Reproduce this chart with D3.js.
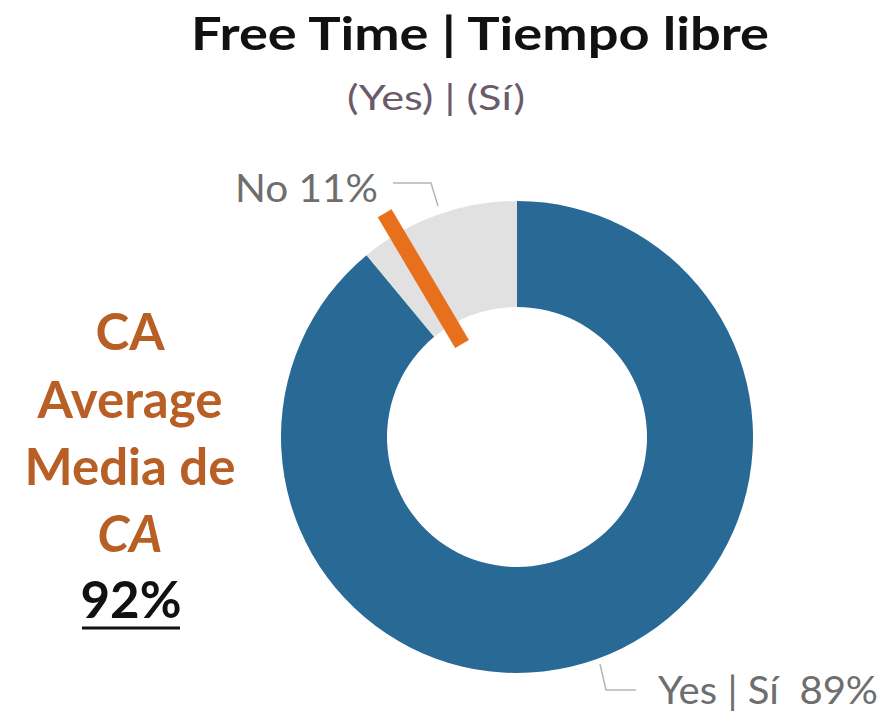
<!DOCTYPE html>
<html lang="en">
  <head>
    <meta charset="utf-8">
    <title>Free Time donut</title>
    <script src="https://d3js.org/d3.v7.min.js"></script>
    <style type="text/css">
      body { margin: 0; background: #fff; }
      text { font-family: Lato, "Open Sans", sans-serif; }
    </style>
  </head>
  <body>
    <script>
      var w = 884;
      var h = 715;

      var categories = ["Yes | Sí", "No"];
      var values = [89, 11];
      var sliceLabels = ["Yes | Sí  89%", "No 11%"];
      var avgValue = 0.915;
      var avgLines = ["CA", "Average", "Media de", "CA"];
      var avgLabel = "92%";

      var svg = d3.select("body").append("svg")
          .attr("width", w).attr("height", h);

      var cx = 517, cy = 437;
      var outerR = 236, innerR = 130;

      var colors = d3.scaleOrdinal()
        .domain(categories)
        .range(["#286996", "#e1e1e1"]);

      var pie = d3.pie().sort(null).value(d => d.v);
      var arcs = pie(categories.map((c, i) => ({c: c, v: values[i]})));

      var arcGen = d3.arc().innerRadius(innerR).outerRadius(outerR);

      var g = svg.append("g").attr("transform", "translate(" + cx + "," + cy + ")");

      g.selectAll("path.slice")
        .data(arcs)
        .enter().append("path")
        .attr("class", "slice")
        .attr("d", arcGen)
        .attr("fill", d => colors(d.data.c));

      // average marker
      var ang = d3.scaleLinear().domain([0, 1]).range([0, 2 * Math.PI]);
      var a = ang(avgValue);
      g.append("line")
        .attr("x1", 108 * Math.sin(a)).attr("y1", -108 * Math.cos(a))
        .attr("x2", 260 * Math.sin(a)).attr("y2", -260 * Math.cos(a))
        .attr("stroke", "#e8701c")
        .attr("stroke-width", 16);

      // leader lines
      svg.append("path")
        .attr("d", "M393,183 L431,183 L438,206")
        .attr("fill", "none").attr("stroke", "#b5b5b5").attr("stroke-width", 1.5);
      svg.append("path")
        .attr("d", "M600,664 L606,690 L636,690")
        .attr("fill", "none").attr("stroke", "#b5b5b5").attr("stroke-width", 1.5);

      svg.append("text")
        .attr("x", 235).attr("y", 202)
        .attr("font-size", 38).attr("fill", "#6e6e6e")
        .attr("textLength", 143).attr("lengthAdjust", "spacingAndGlyphs")
        .text(sliceLabels[1]);
      svg.append("text")
        .attr("x", 658).attr("y", 704)
        .attr("font-size", 38).attr("fill", "#6e6e6e")
        .attr("textLength", 220).attr("lengthAdjust", "spacingAndGlyphs")
        .attr("xml:space", "preserve")
        .text(sliceLabels[0]);

      // titles
      svg.append("text")
        .attr("x", 480).attr("y", 50)
        .attr("text-anchor", "middle")
        .attr("font-size", 45).attr("font-weight", "bold").attr("fill", "#111")
        .attr("textLength", 578).attr("lengthAdjust", "spacingAndGlyphs")
        .text("Free Time | Tiempo libre");
      svg.append("text")
        .attr("x", 436).attr("y", 110)
        .attr("text-anchor", "middle")
        .attr("font-size", 35).attr("fill", "#6a5a6a")
        .attr("textLength", 178).attr("lengthAdjust", "spacingAndGlyphs")
        .text("(Yes) | (Sí)");

      // average text block
      var ys = [350, 418, 485, 552];
      svg.selectAll("text.avg")
        .data(avgLines)
        .enter().append("text")
        .attr("class", "avg")
        .attr("x", 130).attr("y", (d, i) => ys[i])
        .attr("text-anchor", "middle")
        .attr("font-size", 51).attr("font-weight", "bold")
        .attr("font-style", (d, i) => i === 3 ? "italic" : "normal")
        .attr("fill", "#b85f26")
        .text(d => d);

      svg.append("text")
        .attr("x", 131).attr("y", 618)
        .attr("text-anchor", "middle")
        .attr("font-size", 51).attr("font-weight", "bold").attr("fill", "#111")
        .text(avgLabel);
      svg.append("line")
        .attr("x1", 82).attr("x2", 180).attr("y1", 628).attr("y2", 628)
        .attr("stroke", "#111").attr("stroke-width", 3);
    </script>
  </body>
</html>
